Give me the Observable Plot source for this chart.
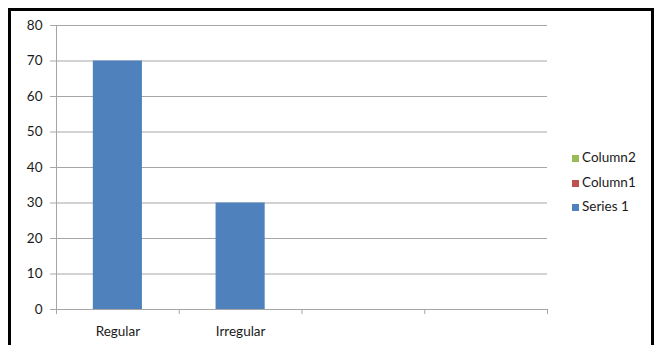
<!DOCTYPE html>
<html>
<head>
<meta charset="utf-8">
<script src="https://cdn.jsdelivr.net/npm/d3@7"></script>
<script src="https://cdn.jsdelivr.net/npm/@observablehq/plot@0.6"></script>
<style>
  body { margin: 0; background: #fff; }
  #wrap { position: relative; width: 658px; height: 345px; overflow: hidden; background: #fff; font-family: Lato, sans-serif; }
  #frame { position: absolute; left: 8px; top: 8px; width: 646px; height: 400px; box-sizing: border-box; border: 3px solid #000; }
  #chart { position: absolute; left: 0; top: 0; }
  #legend { position: absolute; left: 572px; top: 145px; font-size: 13.5px; color: #1a1a1a; }
  .item { height: 24.5px; line-height: 24.5px; white-space: nowrap; }
  .sw { display: inline-block; width: 7px; height: 7px; margin-right: 3px; vertical-align: 0px; }
</style>
</head>
<body>
<div id="wrap">
  <div id="chart"></div>
  <div id="frame"></div>
  <div id="legend"></div>
</div>
<script>
const categories = ["Regular", "Irregular", "", ""];
const series1 = [70, 30, null, null];
const column1 = [null, null, null, null];
const column2 = [null, null, null, null];
const yTicks = [0, 10, 20, 30, 40, 50, 60, 70, 80];
const legendLabels = ["Column2", "Column1", "Series 1"];
const legendColors = ["#9BBB59", "#C0504D", "#4F81BD"];

const grey = "#a6a6a6";
const data = categories.map((c, i) => ({i, c, v: series1[i]})).filter(d => d.v != null);
const boundaries = d3.range(categories.length + 1);
const centers = categories.map((c, i) => i + 0.5);

const chart = Plot.plot({
  width: 658,
  height: 345,
  marginLeft: 56,
  marginRight: 111,
  marginTop: 25,
  marginBottom: 36,
  style: {fontFamily: "Lato, sans-serif", fontSize: "13.5px", background: "transparent", color: "#1a1a1a"},
  x: {type: "linear", domain: [0, categories.length]},
  y: {domain: [0, 80]},
  marks: [
    Plot.gridY(yTicks, {stroke: grey, strokeOpacity: 1}),
    Plot.rectY(data, {x1: d => d.i + 0.3, x2: d => d.i + 0.7, y1: 0, y2: "v", fill: "#4F81BD"}),
    Plot.ruleX([0], {stroke: grey}),
    Plot.ruleY([0], {stroke: grey}),
    Plot.axisY(yTicks, {tickSize: 6, tickPadding: 8, stroke: grey, fill: "#1a1a1a", label: null}),
    Plot.axisX(boundaries, {tickSize: 5, tickFormat: () => "", stroke: grey, label: null}),
    Plot.axisX(centers, {tickSize: 0, tickPadding: 17, tickFormat: v => categories[Math.floor(v)], fill: "#1a1a1a", label: null})
  ]
});
document.getElementById("chart").appendChild(chart);

const legend = document.getElementById("legend");
legendLabels.forEach((l, k) => {
  const div = document.createElement("div");
  div.className = "item";
  const sw = document.createElement("span");
  sw.className = "sw";
  sw.style.background = legendColors[k];
  div.appendChild(sw);
  div.appendChild(document.createTextNode(l));
  legend.appendChild(div);
});
</script>
</body>
</html>
